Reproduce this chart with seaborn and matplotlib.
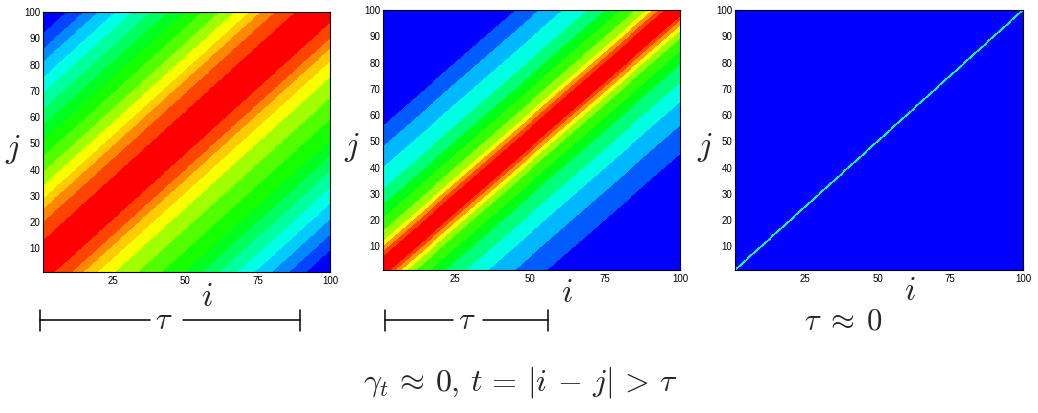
import numpy as np
import matplotlib
matplotlib.use("Agg")
import matplotlib.pyplot as plt
from matplotlib.colors import LinearSegmentedColormap
from matplotlib.lines import Line2D
from matplotlib.ticker import FixedLocator
import seaborn as sns

# i and j run from 1 to 100; sampled finely so band edges stay smooth
n_cells = 300
grid = 1 + (np.arange(n_cells) + 0.5) * 99 / n_cells
x_ticks = [25, 50, 75, 100]
y_ticks = [10, 20, 30, 40, 50, 60, 70, 80, 90, 100]

# colour level of each contour band (0 = blue ... 1 = red),
# with the |i-j| distance where each band ends, above (j>i) and below (j<i) the diagonal
wide_levels = [1.0, 0.933, 0.867, 0.8, 0.745, 0.66, 0.58, 0.52,
               0.47, 0.41, 0.345, 0.275, 0.2, 0.133, 0.067, 0.0]
wide_upper = [12, 19, 24, 28, 33, 38, 44, 50, 56, 62, 68, 74, 80, 85, 91]
wide_lower = [4, 10, 14, 19, 25, 33, 41, 49, 55, 61, 67, 73, 79, 85, 91]

mid_levels = [1.0, 0.93, 0.85, 0.75, 0.65, 0.55, 0.48, 0.38, 0.28, 0.18, 0.09, 0.0]
mid_upper = [5, 7, 9, 11, 15, 20, 25, 31, 39, 47, 55]
mid_lower = [2.5, 4, 6, 8, 11, 16, 21, 28, 35, 44, 55]

thin_levels = [0.33, 0.0]
thin_upper = [0.5]
thin_lower = [0.5]

rainbow = LinearSegmentedColormap.from_list(
    "rainbow5", ["#0000ff", "#00ffff", "#00ff00", "#ffff00", "#ff0000"])


def band_matrix(levels, upper, lower):
    ii, jj = np.meshgrid(grid, grid)  # rows = j, cols = i
    d = jj - ii
    idx = np.where(d >= 0,
                   np.searchsorted(upper, d, side="right"),
                   np.searchsorted(lower, -d, side="right"))
    return np.asarray(levels)[idx]


def pos(v):
    # value on the 1..100 scale -> heatmap cell coordinate
    return (v - 1) * n_cells / 99


sns.set_style("ticks")
plt.rcParams["font.family"] = ["Liberation Sans", "DejaVu Sans"]
plt.rcParams["mathtext.fontset"] = "cm"

W, H = 1038, 413
fig = plt.figure(figsize=(W / 100, H / 100), dpi=100)

# axes boxes in pixels: left, top, right, bottom
boxes = [(43, 12, 330, 272), (383, 10, 680, 270), (735, 10, 1023, 270)]
panels = [(wide_levels, wide_upper, wide_lower),
          (mid_levels, mid_upper, mid_lower),
          (thin_levels, thin_upper, thin_lower)]

for (l, t, r, b), (lev, up, lo) in zip(boxes, panels):
    ax = fig.add_axes([l / W, 1 - b / H, (r - l) / W, (b - t) / H])
    sns.heatmap(band_matrix(lev, up, lo), ax=ax, cmap=rainbow, vmin=0, vmax=1,
                cbar=False, xticklabels=False, yticklabels=False)
    ax.set_xlim(0, n_cells)
    ax.set_ylim(0, n_cells)
    ax.set_xticks([pos(v) for v in x_ticks])
    ax.set_xticklabels([str(v) for v in x_ticks], fontsize=7, rotation=0)
    ax.set_yticks([pos(v) for v in y_ticks])
    ax.set_yticklabels([str(v) for v in y_ticks], fontsize=7, rotation=0)
    ax.xaxis.set_minor_locator(FixedLocator([pos(v) for v in range(5, 101, 5)]))
    ax.yaxis.set_minor_locator(FixedLocator([pos(v) for v in range(2, 101, 2)]))
    ax.tick_params(which="major", direction="in", length=4, width=0.8, pad=3,
                   colors="black")
    ax.tick_params(which="minor", direction="in", length=2, width=0.6)
    ax.tick_params(axis="y", pad=2)
    for sp in ax.spines.values():
        sp.set_visible(True)
        sp.set_color("black")
        sp.set_linewidth(0.8)
    ax.set_xlabel("")
    ax.set_ylabel("")


def px(x, y):
    return x / W, 1 - y / H


# axis letters
for x, y in [(13, 150), (352, 147), (705, 147)]:
    fig.text(*px(x, y), r"$j$", fontsize=24, ha="center", va="center")
for x, y in [(207, 297), (567, 293), (910, 292)]:
    fig.text(*px(x, y), r"$i$", fontsize=24, ha="center", va="center")


# tau brackets
def bracket(x0, x1, gap0, gap1, y):
    segs = [((x0, gap0), (y, y)), ((gap1, x1), (y, y)),
            ((x0, x0), (y - 10, y + 11)), ((x1, x1), (y - 10, y + 11))]
    for xs, ys in segs:
        fig.add_artist(Line2D([xs[0] / W, xs[1] / W], [1 - ys[0] / H, 1 - ys[1] / H],
                              transform=fig.transFigure, color="black", lw=1.1))


bracket(40, 300, 150, 183, 320)
fig.text(*px(164, 321), r"$\tau$", fontsize=22, ha="center", va="center")
bracket(385, 548, 453, 483, 320)
fig.text(*px(467, 321), r"$\tau$", fontsize=22, ha="center", va="center")
fig.text(*px(843, 322), r"$\tau \;\approx\; 0$", fontsize=22, ha="center", va="center")

fig.text(*px(520, 382),
         r"$\gamma_t \,\approx\, 0,\, t \,=\, |i \,-\, j| \,>\, \tau$",
         fontsize=23, ha="center", va="center")

fig.savefig("out.png", dpi=100)
